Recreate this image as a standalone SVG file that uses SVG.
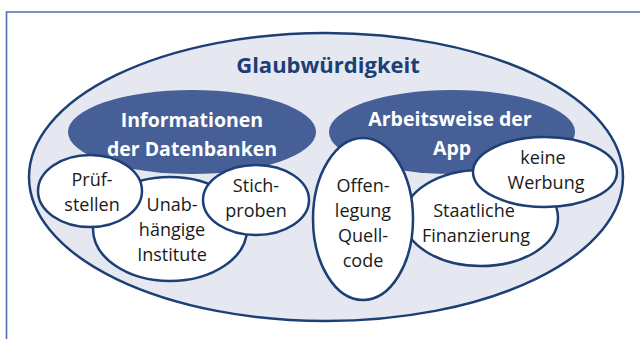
<svg xmlns="http://www.w3.org/2000/svg" width="640" height="339" viewBox="0 0 640 339">
  <style>
    .frame { fill: none; stroke: #4a72a8; stroke-width: 1.6; }
    .outer { fill: #e6e8f1; stroke: #1c3f75; stroke-width: 2.5; }
    .cat { fill: #465f97; stroke: none; }
    .leaf { fill: #ffffff; stroke: #1c3f75; stroke-width: 2.5; }
    text { font-family: "Open Sans", "Noto Sans", "DejaVu Sans", sans-serif; text-anchor: middle; }
    .title { font-size: 22px; font-weight: 700; fill: #1c3f75; }
    .cat-label { font-size: 19.5px; font-weight: 700; fill: #ffffff; }
    .leaf-label { font-size: 18px; fill: #1a1a1a; }
  </style>

  <!-- border lines -->
  <path class="frame" d="M6.5 339 V12 H640"/>

  <g id="glaubwuerdigkeit">
    <ellipse class="outer" cx="326" cy="177" rx="297" ry="144"/>
    <text class="title" x="328" y="73">Glaubwürdigkeit</text>
  </g>

  <g id="informationen">
    <ellipse class="cat" cx="192" cy="132" rx="124" ry="42"/>
    <text class="cat-label" x="192" y="127">Informationen</text>
    <text class="cat-label" x="192" y="156">der Datenbanken</text>
  </g>

  <g id="arbeitsweise">
    <ellipse class="cat" cx="452" cy="132" rx="123" ry="42"/>
    <text class="cat-label" x="450" y="126">Arbeitsweise der</text>
    <text class="cat-label" x="452" y="155">App</text>
  </g>

  <g id="institute">
    <ellipse class="leaf" cx="170" cy="229" rx="77" ry="52"/>
    <text class="leaf-label" x="172" y="211">Unab-</text>
    <text class="leaf-label" x="172" y="236">hängige</text>
    <text class="leaf-label" x="172" y="261">Institute</text>
  </g>

  <g id="pruefstellen">
    <ellipse class="leaf" cx="90" cy="191" rx="52" ry="36"/>
    <text class="leaf-label" x="92" y="186">Prüf-</text>
    <text class="leaf-label" x="92" y="211">stellen</text>
  </g>

  <g id="stichproben">
    <ellipse class="leaf" cx="256" cy="200" rx="53" ry="35"/>
    <text class="leaf-label" x="256" y="192">Stich-</text>
    <text class="leaf-label" x="256" y="217">proben</text>
  </g>

  <g id="finanzierung">
    <ellipse class="leaf" cx="481" cy="218" rx="77" ry="48"/>
    <text class="leaf-label" x="474" y="217">Staatliche</text>
    <text class="leaf-label" x="476" y="242">Finanzierung</text>
  </g>

  <g id="quellcode">
    <ellipse class="leaf" cx="363" cy="219" rx="50" ry="81"/>
    <text class="leaf-label" x="363" y="192">Offen-</text>
    <text class="leaf-label" x="363" y="217">legung</text>
    <text class="leaf-label" x="363" y="242">Quell-</text>
    <text class="leaf-label" x="363" y="267">code</text>
  </g>

  <g id="werbung">
    <ellipse class="leaf" cx="545" cy="172" rx="72" ry="35"/>
    <text class="leaf-label" x="543" y="164">keine</text>
    <text class="leaf-label" x="546" y="189">Werbung</text>
  </g>

  <!-- no connectors: nesting only -->
  <g id="connectors"/>
</svg>
